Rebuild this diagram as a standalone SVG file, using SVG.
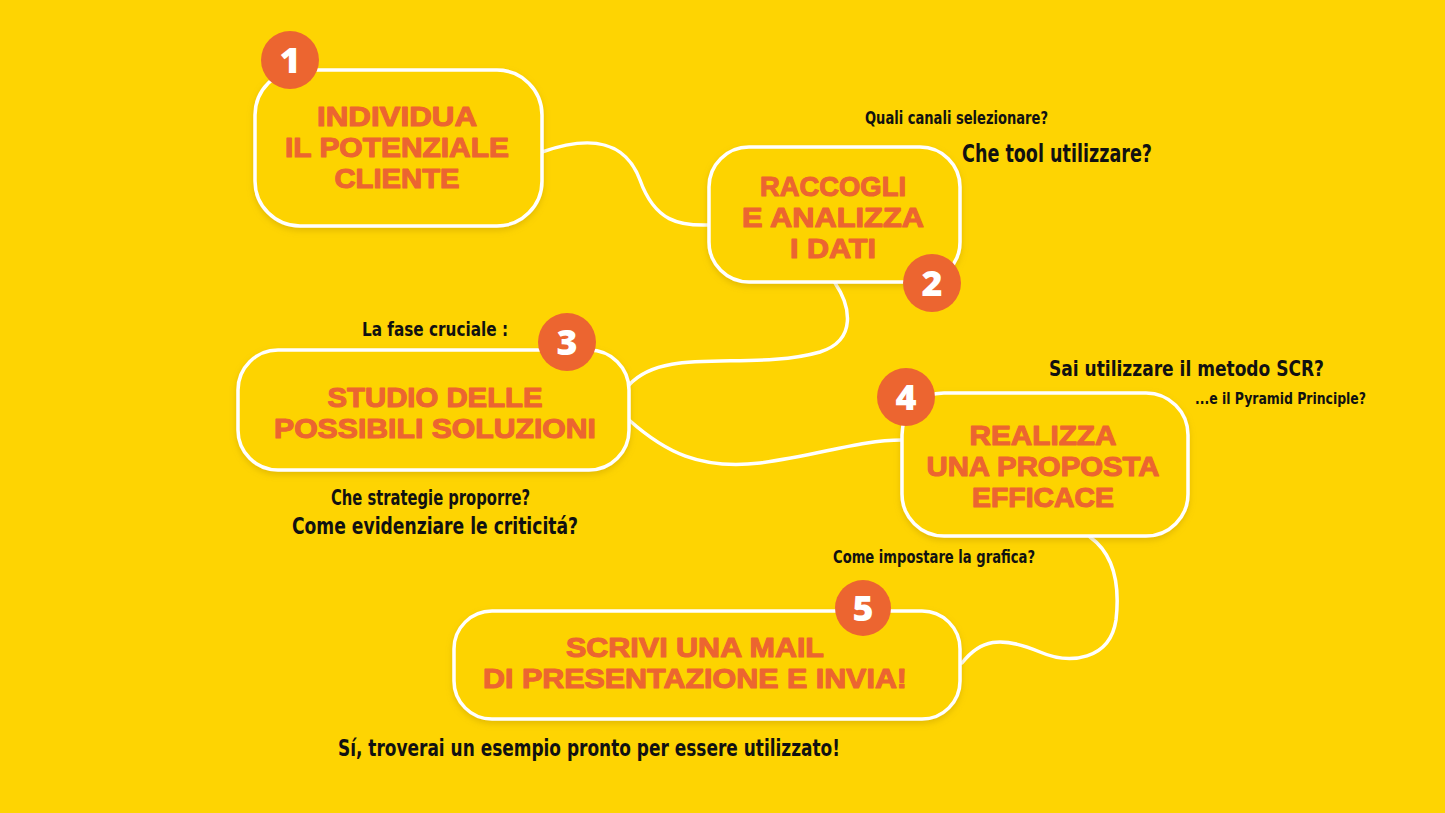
<svg xmlns="http://www.w3.org/2000/svg" width="1445" height="813" viewBox="0 0 1445 813">
<defs>
<filter id="sh" x="-10%" y="-10%" width="120%" height="130%">
<feDropShadow dx="0" dy="3" stdDeviation="3" flood-color="#b08a00" flood-opacity="0.35"/>
</filter>
<style>
.box{fill:#FDD300;stroke:#ffffff;stroke-width:3.5;filter:url(#sh)}
.badge{fill:#EC6530}
.num{fill:#ffffff;font-family:"Open Sans","Liberation Sans",sans-serif;font-weight:800;font-size:36px;text-anchor:middle}
.title{fill:#EC6530;stroke:#EC6530;stroke-width:1.1;stroke-linejoin:round;font-family:"Liberation Sans","Open Sans",sans-serif;font-weight:bold;font-size:27.5px;text-anchor:middle}
.hand{fill:#111111;font-family:"Liberation Sans Narrow","DejaVu Sans Condensed","Liberation Sans",sans-serif;font-weight:bold}
.link{fill:none;stroke:#ffffff;stroke-width:3.5;stroke-linecap:round}
</style>
</defs>
<rect width="1445" height="813" fill="#FED402"/>
<g id="connectors">
<path class="link" d="M542,152 C590,135 625,140 640,180 C655,222 680,226 709,225"/>
<path class="link" d="M835,283 C850,305 858,340 820,352 C750,372 665,345 629,385"/>
<path class="link" d="M629,420 C665,452 700,470 760,463 C820,455 860,440 902,440"/>
<path class="link" d="M1090,537 C1115,555 1120,585 1116,620 C1110,660 1070,665 1040,652 C1000,635 980,640 962,663"/>
</g>
<g id="node1">
<rect class="box" x="255" y="70" width="287" height="156" rx="45"/>
<text class="title"><tspan x="397" y="126" textLength="160" lengthAdjust="spacingAndGlyphs">INDIVIDUA</tspan><tspan x="397" y="157" textLength="224" lengthAdjust="spacingAndGlyphs">IL POTENZIALE</tspan><tspan x="397" y="188" textLength="125" lengthAdjust="spacingAndGlyphs">CLIENTE</tspan></text>
<circle class="badge" cx="290" cy="60" r="29"/>
<text class="num" x="290" y="73">1</text>
</g>
<g id="node2">
<rect class="box" x="709" y="147" width="251" height="135" rx="40"/>
<text class="title"><tspan x="833" y="196" textLength="146" lengthAdjust="spacingAndGlyphs">RACCOGLI</tspan><tspan x="833" y="227" textLength="182" lengthAdjust="spacingAndGlyphs">E ANALIZZA</tspan><tspan x="833" y="258" textLength="86" lengthAdjust="spacingAndGlyphs">I DATI</tspan></text>
<circle class="badge" cx="932" cy="283" r="29"/>
<text class="num" x="932" y="296">2</text>
<text class="hand" x="865" y="124" font-size="18" textLength="183" lengthAdjust="spacingAndGlyphs">Quali canali selezionare?</text>
<text class="hand" x="962" y="162" font-size="24" textLength="190" lengthAdjust="spacingAndGlyphs">Che tool utilizzare?</text>
</g>
<g id="node3">
<rect class="box" x="238" y="350" width="391" height="120" rx="40"/>
<text class="title"><tspan x="435" y="407" textLength="215" lengthAdjust="spacingAndGlyphs">STUDIO DELLE</tspan><tspan x="435" y="438" textLength="322" lengthAdjust="spacingAndGlyphs">POSSIBILI SOLUZIONI</tspan></text>
<circle class="badge" cx="567" cy="342" r="29"/>
<text class="num" x="567" y="355">3</text>
<text class="hand" x="362" y="336" font-size="19" textLength="146" lengthAdjust="spacingAndGlyphs">La fase cruciale :</text>
<text class="hand" x="331" y="505" font-size="21" textLength="199" lengthAdjust="spacingAndGlyphs">Che strategie proporre?</text>
<text class="hand" x="292" y="534" font-size="23" textLength="286" lengthAdjust="spacingAndGlyphs">Come evidenziare le criticitá?</text>
</g>
<g id="node4">
<rect class="box" x="902" y="393" width="286" height="143" rx="42"/>
<text class="title"><tspan x="1043" y="445" textLength="147" lengthAdjust="spacingAndGlyphs">REALIZZA</tspan><tspan x="1043" y="476" textLength="233" lengthAdjust="spacingAndGlyphs">UNA PROPOSTA</tspan><tspan x="1043" y="507" textLength="142" lengthAdjust="spacingAndGlyphs">EFFICACE</tspan></text>
<circle class="badge" cx="906" cy="397" r="29"/>
<text class="num" x="906" y="410">4</text>
<text class="hand" x="1049" y="376" font-size="22" textLength="275" lengthAdjust="spacingAndGlyphs">Sai utilizzare il metodo SCR?</text>
<text class="hand" x="1195" y="404" font-size="16" textLength="171" lengthAdjust="spacingAndGlyphs">...e il Pyramid Principle?</text>
</g>
<g id="node5">
<rect class="box" x="454" y="611" width="506" height="108" rx="38"/>
<text class="title"><tspan x="695" y="657" textLength="258" lengthAdjust="spacingAndGlyphs">SCRIVI UNA MAIL</tspan><tspan x="695" y="688" textLength="424" lengthAdjust="spacingAndGlyphs">DI PRESENTAZIONE E INVIA!</tspan></text>
<circle class="badge" cx="863" cy="608" r="28"/>
<text class="num" x="863" y="621">5</text>
<text class="hand" x="833" y="563" font-size="17" textLength="202" lengthAdjust="spacingAndGlyphs">Come impostare la grafica?</text>
<text class="hand" x="338" y="756" font-size="23" textLength="502" lengthAdjust="spacingAndGlyphs">Sí, troverai un esempio pronto per essere utilizzato!</text>
</g>
</svg>
